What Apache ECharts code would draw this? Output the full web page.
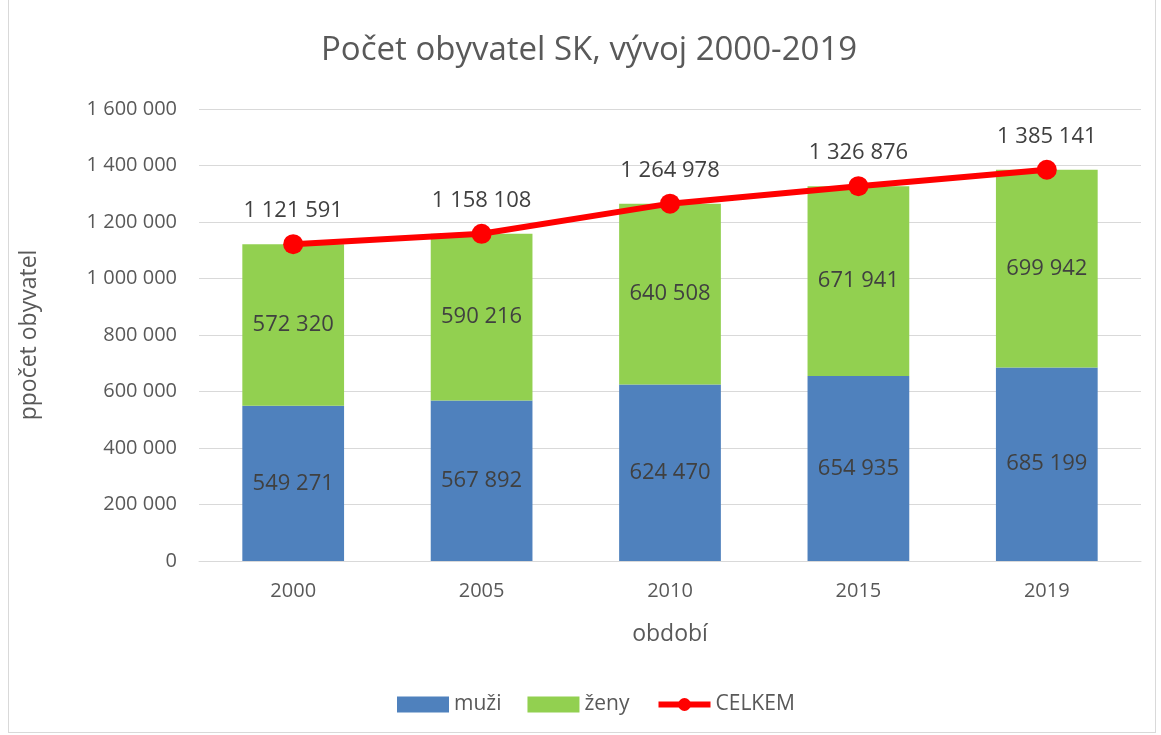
<!DOCTYPE html>
<html>
<head>
<meta charset="utf-8">
<script src="https://cdn.jsdelivr.net/npm/echarts@6/dist/echarts.min.js"></script>
<style>
  html, body { margin: 0; padding: 0; background: #fff; }
  #frame { position: absolute; left: 8px; top: -1px; width: 1146px; height: 732px; border: 1px solid #d9d9d9; }
  #chart { position: absolute; left: 0; top: 0; width: 1161px; height: 735px; }
</style>
</head>
<body>
<div id="frame"></div>
<div id="chart"></div>
<script>
var years = ['2000', '2005', '2010', '2015', '2019'];
var muzi = [549271, 567892, 624470, 654935, 685199];
var zeny = [572320, 590216, 640508, 671941, 699942];
var celkem = [1121591, 1158108, 1264978, 1326876, 1385141];

// cislo s medzerami ako oddelovac tisicov
function fmt(v) {
    return String(v).replace(/\B(?=(\d{3})+(?!\d))/g, ' ');
}

var font = 'Open Sans';
var myChart = echarts.init(document.getElementById('chart'));
var option = {
    animation: false,
    title: {
        text: 'Počet obyvatel SK, vývoj 2000-2019',
        left: 321,
        top: 34,
        padding: 0,
        textStyle: { fontFamily: font, fontSize: 33, fontWeight: 'normal', color: '#595959' }
    },
    legend: {
        bottom: 20,
        left: 397,
        padding: 0,
        itemGap: 26,
        itemWidth: 52,
        itemHeight: 16,
        textStyle: { fontFamily: font, fontSize: 21, color: '#595959' },
        data: [
            { name: 'muži', icon: 'rect' },
            { name: 'ženy', icon: 'rect' },
            { name: 'CELKEM', lineStyle: { width: 6 } }
        ]
    },
    grid: { left: 199, right: 20, top: 109, bottom: 174 },
    xAxis: {
        type: 'category',
        data: years,
        name: 'období',
        nameLocation: 'middle',
        nameGap: 62,
        nameTextStyle: { fontFamily: font, fontSize: 23, color: '#595959' },
        axisLine: { lineStyle: { color: '#d9d9d9' } },
        axisTick: { show: false },
        axisLabel: { fontFamily: font, fontSize: 20, color: '#595959', margin: 20 }
    },
    yAxis: {
        type: 'value',
        min: 0,
        max: 1600000,
        interval: 200000,
        name: 'ppočet obyvatel',
        nameLocation: 'middle',
        nameGap: 158,
        nameTextStyle: { fontFamily: font, fontSize: 23, color: '#595959' },
        axisLabel: { fontFamily: font, fontSize: 20, color: '#595959', margin: 22, formatter: fmt },
        splitLine: { lineStyle: { color: '#d9d9d9', width: 1 } }
    },
    series: [
        {
            name: 'muži',
            type: 'bar',
            stack: 'spolu',
            barWidth: '54%',
            data: muzi,
            itemStyle: { color: '#4f81bd' },
            label: { show: true, position: 'inside', fontFamily: font, fontSize: 22, color: '#404040', formatter: function (p) { return fmt(p.value); } }
        },
        {
            name: 'ženy',
            type: 'bar',
            stack: 'spolu',
            data: zeny,
            itemStyle: { color: '#92d050' },
            label: { show: true, position: 'inside', fontFamily: font, fontSize: 22, color: '#404040', formatter: function (p) { return fmt(p.value); } }
        },
        {
            name: 'CELKEM',
            type: 'line',
            data: celkem,
            symbol: 'circle',
            symbolSize: 20,
            itemStyle: { color: '#ff0000' },
            lineStyle: { color: '#ff0000', width: 6 },
            z: 5,
            label: { show: true, position: 'top', distance: 12, fontFamily: font, fontSize: 22, color: '#404040', formatter: function (p) { return fmt(p.value); } }
        }
    ]
};
myChart.setOption(option);
</script>
</body>
</html>
